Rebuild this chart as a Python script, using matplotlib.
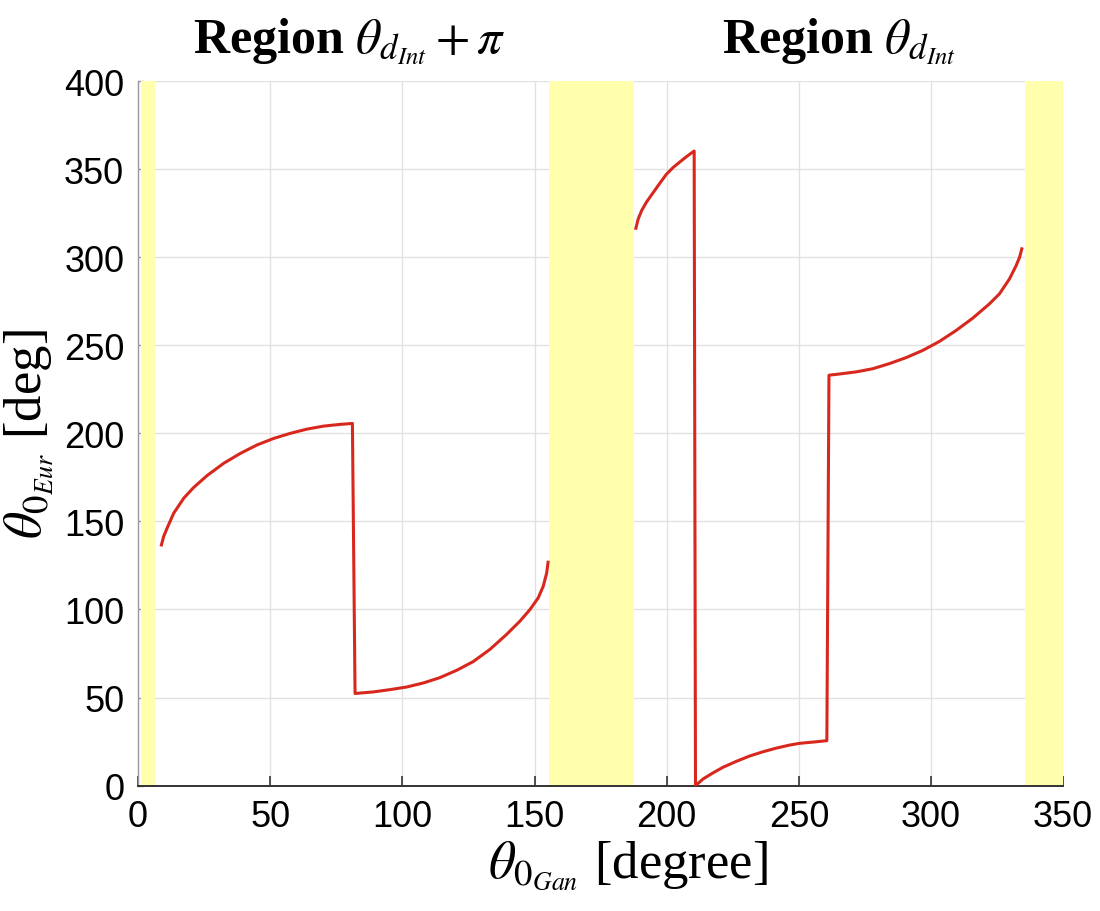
import numpy as np
import matplotlib
matplotlib.use("Agg")
import matplotlib.pyplot as plt

# values
# branch of region theta_dInt + pi
branch_a_x = [8.7, 9.7, 11.0, 13.5, 17.3, 21.0, 26.1, 32.4, 38.7, 45.0, 51.3, 57.6,
              63.9, 70.2, 76.5, 81.1,
              82.1, 89.1, 95.4, 101.7, 108.0, 114.2, 120.6, 126.8, 133.1, 139.4,
              144.5, 148.3, 151.4, 153.3, 154.6, 155.2]
branch_a_y = [135.8, 141.5, 146.2, 154.7, 163.2, 169.2, 176.0, 183.0, 188.6, 193.4,
              197.1, 200.0, 202.4, 204.1, 205.1, 205.6,
              52.3, 53.2, 54.5, 56.0, 58.3, 61.3, 65.5, 70.4, 77.3, 85.8,
              93.4, 100.0, 106.6, 113.2, 120.7, 127.7]

# branch of region theta_dInt
branch_b_x = [188.2, 189.2, 190.5, 192.4, 194.9, 197.4, 199.9, 202.4, 205.0, 207.5, 210.4,
              210.9, 213.8, 217.5, 221.3, 226.4, 231.4, 236.4, 241.5, 246.5, 250.3,
              255.3, 260.6,
              261.4, 265.4, 271.7, 278.0, 284.3, 290.6, 296.9, 303.2, 309.5, 315.8,
              322.1, 325.9, 329.7, 332.2, 333.5, 334.5]
branch_b_y = [315.6, 321.6, 326.4, 331.4, 336.7, 342.0, 347.1, 350.9, 354.1, 357.1, 360.3,
              0.0, 3.8, 7.2, 10.4, 13.8, 16.8, 19.2, 21.3, 23.0, 24.0,
              24.7, 25.5,
              233.0, 233.7, 234.9, 236.7, 239.6, 243.0, 247.1, 252.2, 258.4, 265.4,
              273.5, 279.2, 287.7, 295.2, 299.9, 305.6]

# excluded bands (yellow)
bands = [(1.0, 6.5), (155.5, 187.7), (335.6, 350.0)]

xticks = list(range(0, 351, 50))
yticks = list(range(0, 401, 50))

region_titles = [r"Region $\theta_{d_{Int}} + \pi$", r"Region $\theta_{d_{Int}}$"]
title_x = [80.0, 265.0]

plt.rcParams["mathtext.fontset"] = "stix"

fig = plt.figure(figsize=(11, 9.12), dpi=100)
ax = fig.add_axes([0.1255, 0.1375, 0.841, 0.7725])

for lo, hi in bands:
    ax.axvspan(lo, hi, color="#ffffad", lw=0, zorder=1)

for bx, by in [(branch_a_x, branch_a_y), (branch_b_x, branch_b_y)]:
    ax.plot(bx, by, color="#d8281e", lw=2.2, zorder=3,
            solid_joinstyle="round", solid_capstyle="butt")

ax.set_xlim(0, 350)
ax.set_ylim(0, 400)
ax.set_xticks(xticks)
ax.set_yticks(yticks)
ax.grid(True, color="#e2e2e2", lw=1.0, zorder=0)
ax.set_axisbelow(True)

for side in ["top", "right"]:
    ax.spines[side].set_visible(False)
ax.spines["bottom"].set_color("#333333")
ax.spines["bottom"].set_linewidth(1.4)
ax.spines["left"].set_color("#9a9a9a")
ax.spines["left"].set_linewidth(1.0)

ax.tick_params(axis="x", direction="in", length=7, width=1.2, color="#333333",
               labelsize=26, pad=10)
ax.tick_params(axis="y", direction="in", length=4, width=1.0, color="#9a9a9a",
               labelsize=26, pad=10)
for lab in ax.get_xticklabels() + ax.get_yticklabels():
    lab.set_fontfamily("Liberation Sans")

ax.set_xlabel(r"$\theta_{0_{Gan}}$ [degree]", fontsize=38, family="Liberation Serif")
ax.xaxis.set_label_coords(0.53, -0.075)
ax.set_ylabel(r"$\theta_{0_{Eur}}$ [deg]", fontsize=38, family="Liberation Serif",
              labelpad=6)

for t, tx in zip(region_titles, title_x):
    ax.text(tx, 409, t, fontsize=36, family="Liberation Serif", weight="bold",
            ha="center", va="bottom")

fig.savefig("out.png", dpi=100)
